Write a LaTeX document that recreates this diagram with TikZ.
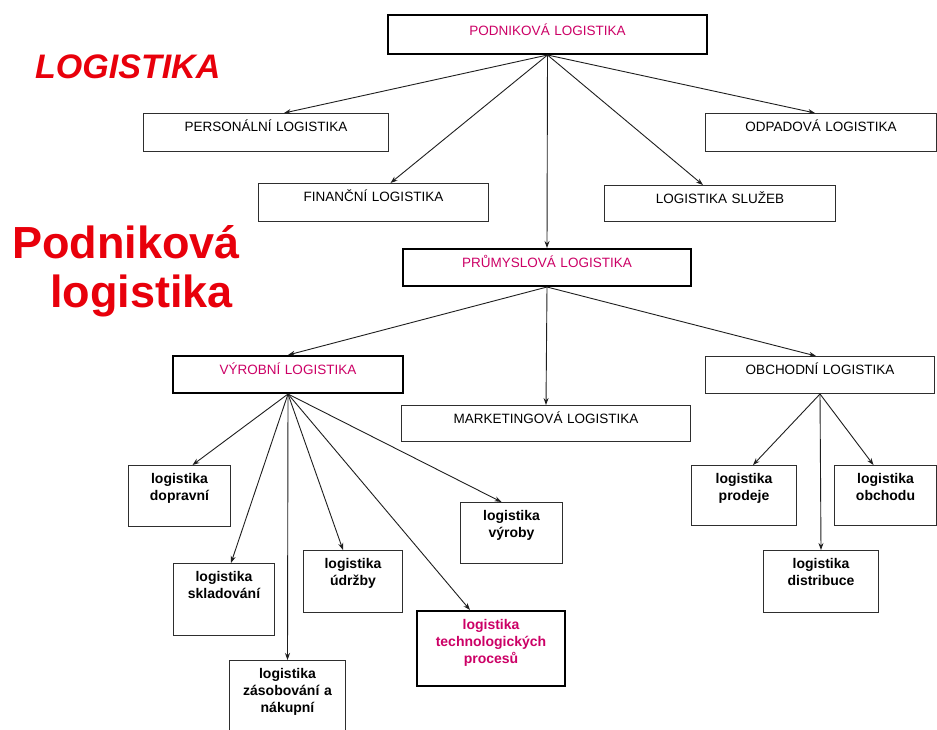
\documentclass[tikz,border=0pt]{standalone}
\usepackage{fontspec}
\setmainfont{Liberation Sans}
\usetikzlibrary{arrows.meta}
\definecolor{boxline}{HTML}{2E2E2E}
\definecolor{wire}{HTML}{1E1E1E}
\definecolor{rose}{HTML}{CC0066}
\definecolor{headred}{HTML}{E8000B}

\tikzset{
  upbox/.style={draw=boxline,line width=1pt,fill=white,anchor=north west,inner xsep=2pt,inner ysep=0pt,align=center,text height=18pt,font=\fontsize{13.5}{16}\selectfont},
  lowbox/.style={upbox,font=\fontsize{14}{17}\selectfont\bfseries},
  heavy/.style={draw=black,line width=2pt},
  accent/.style={text=rose},
  headline/.style={text=headred,inner sep=0pt,anchor=base west},
  arr/.style={draw=wire,line width=.9pt,-{Stealth[length=7pt,width=5pt]}},
}

\begin{document}
\begin{tikzpicture}[x=1pt,y=-1pt]
\useasboundingbox (0,0) rectangle (937,729);
\clip (0,0) rectangle (937,729);
% titles
\node[headline,font=\fontsize{34}{38}\selectfont\bfseries\itshape] (logi) at (35,78) {LOGISTIKA};
\node[headline,font=\fontsize{45}{50}\selectfont\bfseries] (podt) at (12,258) {Podniková};
\node[headline,font=\fontsize{45}{50}\selectfont\bfseries] (logt) at (50,307) {logistika};
% top level
\node[upbox,heavy,accent,text width=315pt,text height=20pt,text depth=19pt] (podn) at (387,14) {PODNIKOVÁ LOGISTIKA};
\node[upbox,text width=241pt,text depth=20pt] (pers) at (143,113) {PERSONÁLNÍ LOGISTIKA};
\node[upbox,text width=227pt,text depth=20pt] (odp) at (705,113) {ODPADOVÁ LOGISTIKA};
\node[upbox,text width=226pt,text depth=20pt] (fin) at (258,183) {FINANČNÍ LOGISTIKA};
\node[upbox,text width=227pt,text depth=18pt] (sluz) at (604,185) {LOGISTIKA SLUŽEB};
\node[upbox,heavy,accent,text width=284pt,text depth=19pt] (prum) at (402,248) {PRŮMYSLOVÁ LOGISTIKA};
% second level
\node[upbox,heavy,accent,text width=226pt,text depth=19pt] (vyr) at (172,355) {VÝROBNÍ LOGISTIKA};
\node[upbox,text width=285pt,text depth=18pt] (mark) at (401,405) {MARKETINGOVÁ LOGISTIKA};
\node[upbox,text width=225pt,text depth=19pt] (obch) at (705,356) {OBCHODNÍ LOGISTIKA};
% production
\node[lowbox,text width=98pt,text depth=43pt] (dopr) at (128,465) {logistika\\dopravní};
\node[lowbox,text width=97pt,text depth=54pt] (sklad) at (173,563) {logistika\\skladování};
\node[lowbox,text width=112pt,text depth=62pt] (zas) at (229,660) {logistika\\zásobování a\\nákupní};
\node[lowbox,text width=95pt,text depth=44pt] (udrz) at (303,550) {logistika\\údržby};
\node[lowbox,text width=98pt,text depth=43pt] (vyrob) at (460,502) {logistika\\výroby};
\node[lowbox,heavy,accent,text width=144pt,text depth=57pt] (tech) at (416,610) {logistika\\technologických\\procesů};
% trade
\node[lowbox,text width=101pt,text depth=42pt] (prod) at (691,465) {logistika\\prodeje};
\node[lowbox,text width=98pt,text depth=42pt] (obchu) at (834,465) {logistika\\obchodu};
\node[lowbox,text width=111pt,text depth=44pt] (distr) at (763,550) {logistika\\distribuce};
% connectors
\draw[arr] (podn.south) -- ([xshift=18pt]pers.north);
\draw[arr] (podn.south) -- ([xshift=17pt]fin.north);
\draw[arr] (podn.south) -- (prum.north);
\draw[arr] (podn.south) -- ([xshift=-17pt]sluz.north);
\draw[arr] (podn.south) -- ([xshift=-6pt]odp.north);
\draw[arr] (prum.south) -- (vyr.north);
\draw[arr] (prum.south) -- (mark.north);
\draw[arr] (prum.south) -- ([xshift=-4pt]obch.north);
\draw[arr] (vyr.south) -- ([xshift=13pt]dopr.north);
\draw[arr] (vyr.south) -- ([xshift=7pt]sklad.north);
\draw[arr] (vyr.south) -- (zas.north);
\draw[arr] (vyr.south) -- ([xshift=-10pt]udrz.north);
\draw[arr] (vyr.south) -- ([xshift=-21pt]tech.north);
\draw[arr] (vyr.south) -- ([xshift=-10pt]vyrob.north);
\draw[arr] (obch.south) -- ([xshift=9pt]prod.north);
\draw[arr] (obch.south) -- (distr.north);
\draw[arr] (obch.south) -- ([xshift=-12pt]obchu.north);
\end{tikzpicture}
\end{document}
